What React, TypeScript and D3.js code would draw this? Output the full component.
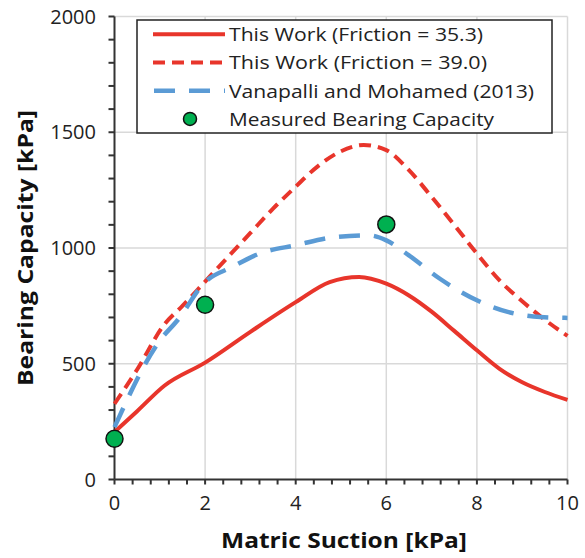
import * as d3 from "d3";

// series
const solidX = [0, 0.5, 1.1, 2, 3, 4, 4.75, 5.4, 6, 6.5, 7, 7.5, 8, 8.5, 9, 9.5, 10];
const solidY = [205, 295, 405, 505, 638, 766, 853, 875, 846, 795, 725, 642, 558, 478, 420, 378, 344];

const dashedX = [0, 0.5, 1.1, 1.5, 2, 2.5, 3, 3.5, 4, 4.5, 5, 5.5, 6, 6.5, 7, 7.5, 8, 8.5, 9, 9.5, 10];
const dashedY = [327, 475, 670, 750, 855, 960, 1065, 1170, 1265, 1355, 1418, 1445, 1423, 1336, 1221, 1100, 976, 860, 770, 690, 620];

const vanX = [0, 1, 1.4, 2, 2.6, 3.2, 4, 4.9, 5.6, 6, 6.5, 7.2, 8, 8.7, 9.4, 10];
const vanY = [226, 600, 690, 853, 918, 976, 1012, 1048, 1055, 1033, 968, 865, 774, 723, 702, 698];

const measuredX = [0, 2, 6];
const measuredY = [176, 755, 1102];

const xTicks = [0, 2, 4, 6, 8, 10];
const yTicks = [0, 500, 1000, 1500, 2000];

const legendLabels = [
  "This Work (Friction = 35.3)",
  "This Work (Friction = 39.0)",
  "Vanapalli and Mohamed (2013)",
  "Measured Bearing Capacity",
];
// widths the labels take in the (slightly stretched) reference
const legendWidths = [254, 258, 305, 265];

const RED = "#e8352b";
const BLUE = "#5b9bd5";
const GREEN = "#00b050";
const FONT = "'Open Sans', sans-serif";

export default function App() {
  const width = 585, height = 558;
  const x = d3.scaleLinear().domain([0, 10]).range([114.5, 567.5]);
  const y = d3.scaleLinear().domain([0, 2000]).range([479.5, 16.5]);

  const line = d3.line<[number, number]>()
    .x(d => x(d[0]))
    .y(d => y(d[1]))
    .curve(d3.curveMonotoneX);

  const zip = (a: number[], b: number[]) => a.map((v, i) => [v, b[i]] as [number, number]);

  const xMinor = d3.range(0, 10.001, 0.4);
  const yMinor = d3.range(0, 2001, 100);

  const lg = { x: 137, y: 20, w: 415, h: 113 };
  const rowY = (i: number) => 34.3 + i * 28.2;

  return (
    <svg width={width} height={height} style={{ position: "absolute", left: 0, top: 0, background: "#fff" }}>
      {/* grid */}
      {yTicks.filter(t => t > 0).map(t => (
        <line key={"gy" + t} x1={x(0)} x2={x(10)} y1={y(t)} y2={y(t)} stroke="#d9d9d9" strokeWidth={1.5} />
      ))}
      {xTicks.filter(t => t > 0).map(t => (
        <line key={"gx" + t} x1={x(t)} x2={x(t)} y1={y(0)} y2={y(2000)} stroke="#d9d9d9" strokeWidth={1.5} />
      ))}

      {/* axes */}
      <line x1={x(0)} x2={x(0)} y1={y(0)} y2={y(2000)} stroke="#333" strokeWidth={2} />
      <line x1={x(0)} x2={x(10)} y1={y(0)} y2={y(0)} stroke="#333" strokeWidth={2} />
      {yMinor.map(t => (
        <line key={"ty" + t} x1={x(0) - 6} x2={x(0)} y1={y(t)} y2={y(t)} stroke="#333" strokeWidth={2} />
      ))}
      {xMinor.map(t => (
        <line key={"tx" + t} x1={x(t)} x2={x(t)} y1={y(0)} y2={y(0) + 5} stroke="#333" strokeWidth={2} />
      ))}
      {yTicks.map(t => (
        <text key={"ly" + t} x={96} y={y(t)} dy="0.36em" textAnchor="end" fontFamily={FONT} fontSize={20} fill="#222">{t}</text>
      ))}
      {xTicks.map(t => (
        <text key={"lx" + t} x={x(t)} y={510} textAnchor="middle" fontFamily={FONT} fontSize={20} fill="#222">{t}</text>
      ))}

      {/* titles */}
      <text x={344} y={548} textAnchor="middle" fontFamily={FONT} fontWeight="bold" fontSize={21} fill="#111"
        textLength={246} lengthAdjust="spacingAndGlyphs">Matric Suction [kPa]</text>
      <text transform={`translate(33,248) rotate(-90)`} textAnchor="middle" fontFamily={FONT} fontWeight="bold" fontSize={21} fill="#111"
        textLength={276} lengthAdjust="spacingAndGlyphs">Bearing Capacity [kPa]</text>

      {/* series */}
      <path d={line(zip(solidX, solidY)) || ""} fill="none" stroke={RED} strokeWidth={4} />
      <path d={line(zip(dashedX, dashedY)) || ""} fill="none" stroke={RED} strokeWidth={4} strokeDasharray="12 7" />
      <path d={line(zip(vanX, vanY)) || ""} fill="none" stroke={BLUE} strokeWidth={4.5} strokeDasharray="21 14" />
      {measuredX.map((v, i) => (
        <circle key={"m" + i} cx={x(v)} cy={y(measuredY[i])} r={8.5} fill={GREEN} stroke="#111" strokeWidth={1.5} />
      ))}

      {/* legend */}
      <rect x={lg.x} y={lg.y} width={lg.w} height={lg.h} fill="#fff" stroke="#222" strokeWidth={1.5} />
      <line x1={153} x2={225} y1={rowY(0)} y2={rowY(0)} stroke={RED} strokeWidth={4} />
      <line x1={153} x2={225} y1={rowY(1)} y2={rowY(1)} stroke={RED} strokeWidth={4} strokeDasharray="12 7" />
      <line x1={153} x2={225} y1={rowY(2)} y2={rowY(2)} stroke={BLUE} strokeWidth={4.5} strokeDasharray="21 14" strokeDashoffset={-1} />
      <circle cx={190} cy={rowY(3)} r={6.5} fill={GREEN} stroke="#111" strokeWidth={1.5} />
      {legendLabels.map((s, i) => (
        <text key={s} x={229} y={rowY(i)} dy="0.36em" fontFamily={FONT} fontSize={19} fill="#222"
          textLength={legendWidths[i]} lengthAdjust="spacingAndGlyphs">{s}</text>
      ))}
    </svg>
  );
}
